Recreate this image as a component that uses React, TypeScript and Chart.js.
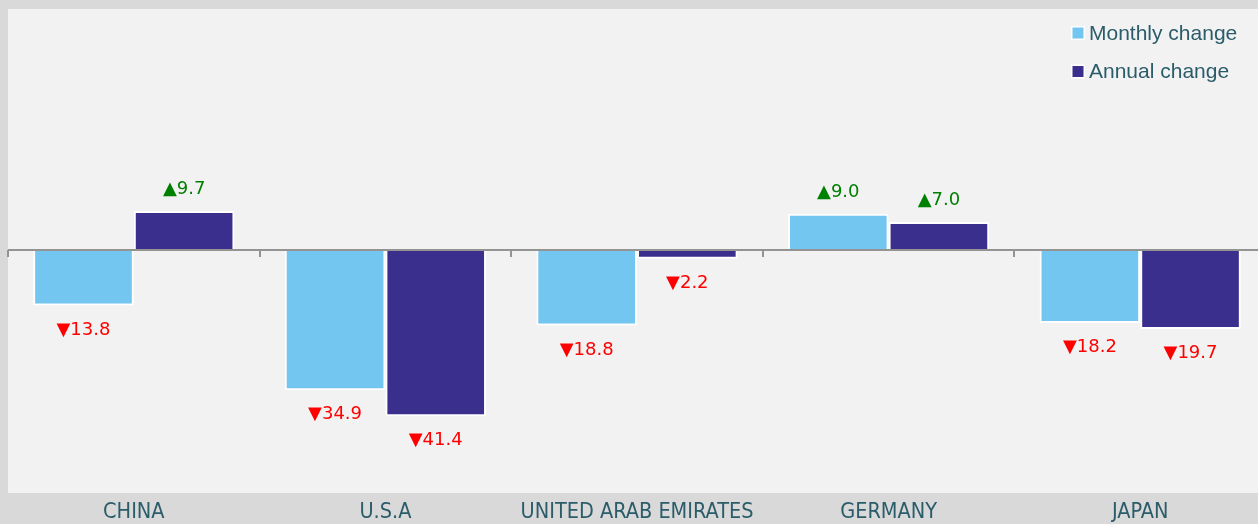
import React, { useEffect, useRef } from "react";
import { Chart, registerables } from "chart.js";

Chart.register(...registerables);

const categories = ["CHINA", "U.S.A", "UNITED ARAB EMIRATES", "GERMANY", "JAPAN"];
const monthlyChange = [-13.8, -34.9, -18.8, 9.0, -18.2];
const annualChange = [9.7, -41.4, -2.2, 7.0, -19.7];
const seriesNames = ["Monthly change", "Annual change"];
const seriesColors = ["#73c6f0", "#3b2f8e"];

const TEXT_COLOR = "#2b5c6a";

const panelPlugin = {
  id: "panel",
  beforeDraw(chart: any) {
    const { ctx, chartArea } = chart;
    ctx.save();
    ctx.fillStyle = "#f2f2f2";
    ctx.fillRect(chartArea.left, chartArea.top, chartArea.right - chartArea.left, chartArea.bottom - chartArea.top);
    ctx.restore();
  },
};

const zeroLinePlugin = {
  id: "zeroLine",
  afterDatasetsDraw(chart: any) {
    const { ctx, chartArea, scales } = chart;
    const y0 = scales.y.getPixelForValue(0);
    ctx.save();
    ctx.strokeStyle = "#939393";
    ctx.lineWidth = 2;
    ctx.beginPath();
    ctx.moveTo(chartArea.left, y0);
    ctx.lineTo(chartArea.right, y0);
    ctx.stroke();
    ctx.lineWidth = 2;
    for (let i = 0; i <= categories.length; i++) {
      const x = Math.round(scales.x.getPixelForValue(i - 0.5));
      ctx.beginPath();
      ctx.moveTo(x, y0);
      ctx.lineTo(x, y0 + 7);
      ctx.stroke();
    }
    ctx.restore();
  },
};

const labelPlugin = {
  id: "valueLabels",
  afterDatasetsDraw(chart: any) {
    const { ctx } = chart;
    ctx.save();
    ctx.font = "18px 'DejaVu Sans', sans-serif";
    ctx.textAlign = "center";
    ctx.textBaseline = "middle";
    chart.data.datasets.forEach((ds: any, di: number) => {
      const meta = chart.getDatasetMeta(di);
      meta.data.forEach((bar: any, i: number) => {
        const v = ds.data[i] as number;
        const up = v >= 0;
        const txt = (up ? "\u25B2" : "\u25BC") + Math.abs(v).toFixed(1);
        ctx.fillStyle = up ? "#008000" : "#ff0000";
        ctx.fillText(txt, bar.x, up ? bar.y - 22 : bar.y + 24.5);
      });
    });
    ctx.restore();
  },
};

const legendPlugin = {
  id: "customLegend",
  afterDraw(chart: any) {
    const { ctx } = chart;
    ctx.save();
    ctx.font = "21px 'Liberation Sans', Arial, sans-serif";
    ctx.textAlign = "left";
    ctx.textBaseline = "middle";
    seriesNames.forEach((name, i) => {
      const cy = 33 + i * 38.5;
      ctx.fillStyle = "#ffffff";
      ctx.fillRect(1071, cy - 7, 14, 14);
      ctx.fillStyle = seriesColors[i];
      ctx.fillRect(1072.5, cy - 5.5, 11, 11);
      ctx.fillStyle = TEXT_COLOR;
      ctx.fillText(name, 1089, cy + 1);
    });
    ctx.restore();
  },
};

export default function App() {
  const canvasRef = useRef<HTMLCanvasElement | null>(null);

  useEffect(() => {
    document.body.style.margin = "0";
    document.body.style.background = "#d9d9d9";
    document.body.style.overflow = "hidden";
    const canvas = canvasRef.current;
    if (!canvas) return;
    const chart = new Chart(canvas, {
      type: "bar",
      data: {
        labels: categories,
        datasets: [
          {
            label: seriesNames[0],
            data: monthlyChange,
            backgroundColor: seriesColors[0],
            borderColor: "#ffffff",
            borderWidth: 2,
            barPercentage: 1,
            categoryPercentage: 0.8,
          },
          {
            label: seriesNames[1],
            data: annualChange,
            backgroundColor: seriesColors[1],
            borderColor: "#ffffff",
            borderWidth: 2,
            barPercentage: 1,
            categoryPercentage: 0.8,
          },
        ],
      },
      options: {
        responsive: false,
        animation: false,
        devicePixelRatio: 1,
        layout: { padding: { left: 8, top: 9, right: 0, bottom: 0 } },
        plugins: {
          legend: { display: false },
          tooltip: { enabled: false },
        },
        scales: {
          x: {
            grid: { display: false, drawTicks: false },
            border: { display: false },
            ticks: {
              color: TEXT_COLOR,
              font: { family: "'Liberation Sans Narrow', 'DejaVu Sans Condensed', sans-serif", size: 21.5 },
              padding: 7,
              maxRotation: 0,
              autoSkip: false,
            },
            afterFit: (scale: any) => {
              scale.height = 31;
            },
          },
          y: {
            display: false,
            min: -60.5,
            max: 60,
          },
        },
      },
      plugins: [panelPlugin, zeroLinePlugin, labelPlugin, legendPlugin],
    });
    return () => chart.destroy();
  }, []);

  return (
    <div style={{ width: 1258, height: 524, overflow: "hidden", background: "#d9d9d9" }}>
      <canvas ref={canvasRef} width={1266} height={524} style={{ width: 1266, height: 524, display: "block" }} />
    </div>
  );
}
